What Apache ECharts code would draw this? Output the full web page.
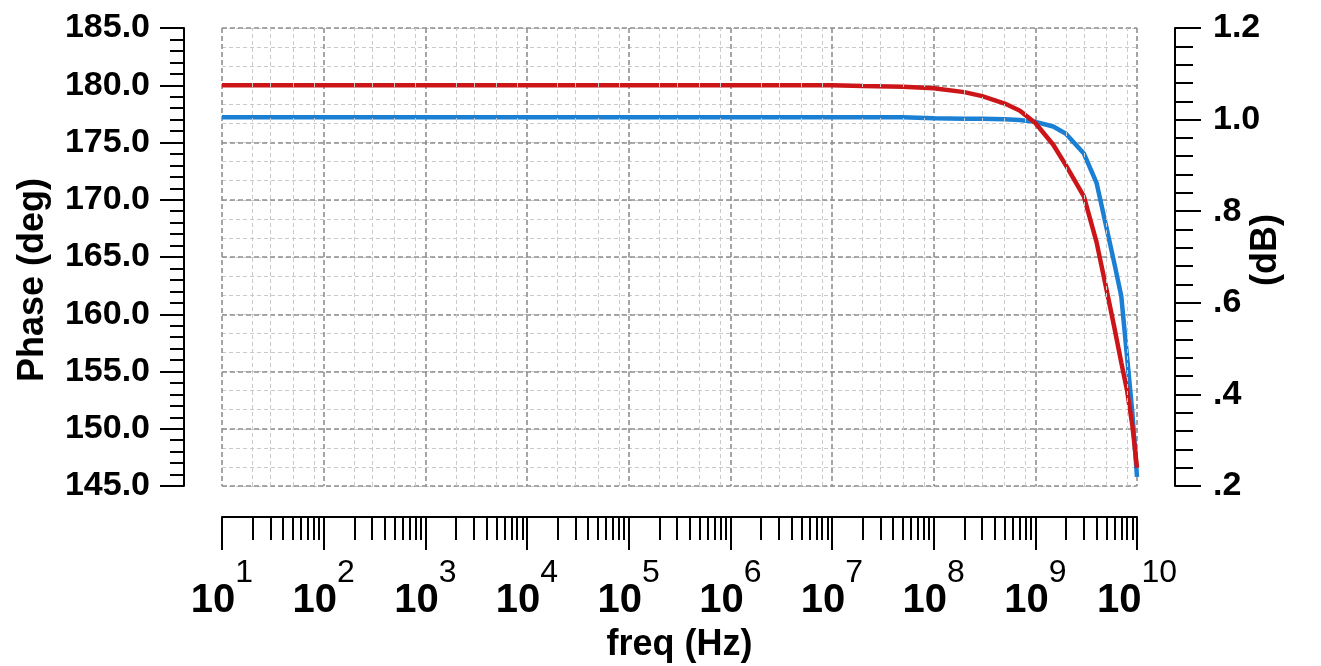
<!DOCTYPE html>
<html><head><meta charset="utf-8">
<script src="https://cdn.jsdelivr.net/npm/echarts@6/dist/echarts.min.js"></script>
<style>html,body{margin:0;padding:0;background:#fff}#c{width:1321px;height:666px}</style>
</head><body><div id="c"></div>
<script>
// frequency points (Hz)
const freqs = [10, 100, 1e3, 1e4, 1e5, 1e6, 1e7, 2e7, 5e7, 1e8, 2e8, 3e8, 5e8, 7e8, 1e9, 1.5e9, 2e9, 3e9, 4e9, 5e9, 6e9, 7e9, 8e9, 9e9, 1e10];
// red curve: phase (deg), left axis
const phaseDeg = [180, 180, 180, 180, 180, 180, 180, 179.93, 179.87, 179.73, 179.4, 179.05, 178.4, 177.8, 176.7, 174.8, 173.0, 170.3, 166.3, 162.2, 158.8, 155.8, 153.3, 150.3, 146.6];
// blue curve: magnitude (dB), right axis
const magDb = [1.005, 1.005, 1.005, 1.005, 1.005, 1.005, 1.005, 1.005, 1.005, 1.003, 1.002, 1.002, 1.001, 0.999, 0.995, 0.985, 0.969, 0.926, 0.862, 0.765, 0.685, 0.615, 0.48, 0.36, 0.22];
// light vertical grid multipliers within each decade
const lightGridMult = [2, 3, 5, 8];
const decades = [10, 100, 1e3, 1e4, 1e5, 1e6, 1e7, 1e8, 1e9];

const FONT = "'Liberation Sans', Arial, sans-serif";
const NARROW = "'Liberation Sans Narrow', 'Liberation Sans', Arial, sans-serif";

const lightVLines = [];
decades.forEach(d => lightGridMult.forEach(m => lightVLines.push({ xAxis: d * m })));

const chart = echarts.init(document.getElementById('c'), null, { renderer: 'canvas' });
chart.setOption({
  animation: false,
  backgroundColor: '#fff',
  grid: { left: 222, right: 184, top: 28, bottom: 180, containLabel: false, outerBoundsMode: 'none' },
  xAxis: [{
    type: 'log', logBase: 10, min: 10, max: 1e10,
    position: 'bottom', offset: 31,
    axisLine: { show: true, onZero: false, lineStyle: { color: '#000', width: 2 } },
    axisTick: { show: true, length: 33, lineStyle: { color: '#000', width: 2 } },
    minorTick: { show: true, splitNumber: 9, length: 23, lineStyle: { color: '#000', width: 2 } },
    splitLine: { show: true, lineStyle: { color: '#8f8f8f', width: 1.6, type: [5, 3] } },
    axisLabel: {
      margin: 40,
      formatter: v => '{b|10}{s|' + Math.round(Math.log10(v)) + '}',
      rich: {
        b: { fontSize: 40, fontWeight: 'bold', fontFamily: NARROW, color: '#000', lineHeight: 64, verticalAlign: 'bottom' },
        s: { fontSize: 32, fontFamily: NARROW, color: '#000', lineHeight: 30, verticalAlign: 'top' }
      }
    },
    name: 'freq (Hz)', nameLocation: 'middle', nameGap: 110,
    nameTextStyle: { fontSize: 36, fontWeight: 'bold', fontFamily: FONT, color: '#000' }
  }],
  yAxis: [{
    // hidden axis only for the light horizontal grid
    type: 'value', min: 0, max: 24, interval: 1, position: 'left',
    axisLine: { show: false }, axisTick: { show: false }, axisLabel: { show: false },
    splitLine: { show: true, lineStyle: { color: '#cacaca', width: 1, type: [4, 3] } }
  }, {
    type: 'value', min: 145, max: 185, interval: 5, position: 'left', offset: 38,
    axisLine: { show: true, onZero: false, lineStyle: { color: '#000', width: 2 } },
    axisTick: { show: true, length: 24, lineStyle: { color: '#000', width: 2 } },
    minorTick: { show: true, splitNumber: 5, length: 14, lineStyle: { color: '#000', width: 2 } },
    splitLine: { show: true, lineStyle: { color: '#8f8f8f', width: 1.6, type: [5, 3] } },
    axisLabel: { margin: 34, fontSize: 34, fontWeight: 'bold', fontFamily: FONT, color: '#000', formatter: v => v.toFixed(1) },
    name: 'Phase (deg)', nameLocation: 'middle', nameGap: 133, nameRotate: 90,
    nameTextStyle: { fontSize: 36, fontWeight: 'bold', fontFamily: FONT, color: '#000', padding: [0, 46, 0, 0] }
  }, {
    type: 'value', min: 0.2, max: 1.2, interval: 0.2, position: 'right', offset: 38,
    axisLine: { show: true, onZero: false, lineStyle: { color: '#000', width: 2 } },
    axisTick: { show: true, length: 26, lineStyle: { color: '#000', width: 2 } },
    minorTick: { show: true, splitNumber: 5, length: 18, lineStyle: { color: '#000', width: 2 } },
    splitLine: { show: false },
    axisLabel: { margin: 38, fontSize: 34, fontWeight: 'bold', fontFamily: FONT, color: '#000',
      formatter: v => { const s = v.toFixed(1); return v < 1 ? s.replace(/^0/, '') : s; } },
    name: '(dB)', nameLocation: 'middle', nameGap: 73, nameRotate: 90, nameMoveOverlap: false,
    nameTextStyle: { fontSize: 36, fontWeight: 'bold', fontFamily: FONT, color: '#000', padding: [0, 0, 0, 14] }
  }],
  series: [{
    type: 'line', xAxisIndex: 0, yAxisIndex: 1, data: [], z: 1, silent: true,
    markLine: {
      silent: true, symbol: 'none', label: { show: false },
      lineStyle: { color: '#cacaca', width: 1, type: [4, 3] },
      data: lightVLines
    }
  }, {
    name: 'Phase', type: 'line', xAxisIndex: 0, yAxisIndex: 1, z: 4,
    showSymbol: false, smooth: false,
    lineStyle: { color: '#cc1518', width: 4.5 },
    data: freqs.map((f, i) => [f, phaseDeg[i]])
  }, {
    name: 'dB', type: 'line', xAxisIndex: 0, yAxisIndex: 2, z: 3,
    showSymbol: false, smooth: false,
    lineStyle: { color: '#1b80d4', width: 4.5 },
    data: freqs.map((f, i) => [f, magDb[i]])
  }]
});
</script>
</body></html>
